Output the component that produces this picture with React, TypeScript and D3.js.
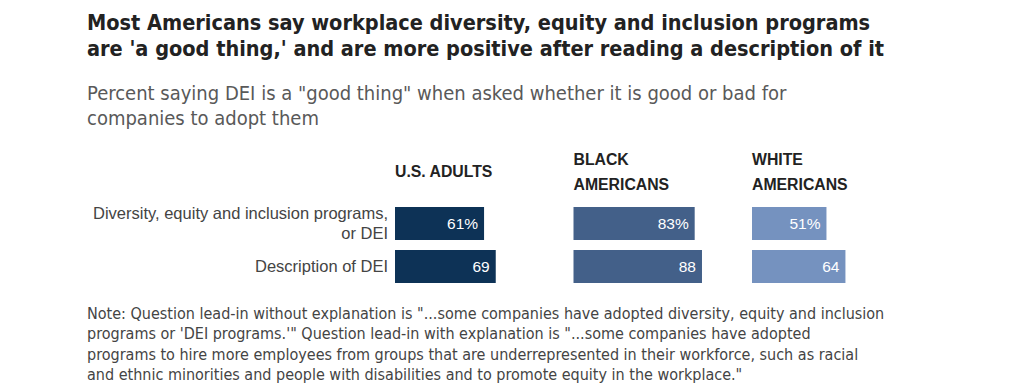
import React from "react";
import * as d3 from "d3";

const groups = ["U.S. ADULTS", "BLACK AMERICANS", "WHITE AMERICANS"];
const groupHeaderLines = [["U.S. ADULTS"], ["BLACK", "AMERICANS"], ["WHITE", "AMERICANS"]];
const categories = ["Diversity, equity and inclusion programs, or DEI", "Description of DEI"];
const categoryLines = [["Diversity, equity and inclusion programs,", "or DEI"], ["Description of DEI"]];
const usAdults = [61, 69];
const blackAmericans = [83, 88];
const whiteAmericans = [51, 64];
const groupColors = ["#0d3256", "#436089", "#7592bf"];

const titleLines = [
  "Most Americans say workplace diversity, equity and inclusion programs",
  "are 'a good thing,' and are more positive after reading a description of it",
];
const subtitleLines = [
  'Percent saying DEI is a "good thing" when asked whether it is good or bad for',
  "companies to adopt them",
];
const noteLines = [
  'Note: Question lead-in without explanation is "...some companies have adopted diversity, equity and inclusion',
  "programs or 'DEI programs.'\" Question lead-in with explanation is \"...some companies have adopted",
  "programs to hire more employees from groups that are underrepresented in their workforce, such as racial",
  'and ethnic minorities and people with disabilities and to promote equity in the workplace."',
];

const W = 1020;
const H = 392;
const condensed = "'DejaVu Sans Condensed', 'Liberation Sans Narrow', Arial, sans-serif";
const regular = "'Liberation Sans', Arial, sans-serif";

export default function App() {
  const seriesValues = [usAdults, blackAmericans, whiteAmericans];
  const groupX = d3.scalePoint<string>().domain(groups).range([395, 752]);
  const x = d3.scaleLinear().domain([0, 100]).range([0, 146]);
  const y = d3
    .scaleBand<string>()
    .domain(categories)
    .range([207, 283])
    .paddingInner(10 / 43)
    .paddingOuter(0);

  return (
    <svg width={W} height={H} style={{ position: "absolute", left: 0, top: 0 }}>
      <rect width={W} height={H} fill="#fff" />
      {titleLines.map((t, i) => (
        <text
          key={i}
          x={87}
          y={30 + i * 26}
          fontFamily={condensed}
          fontWeight="bold"
          fontSize={21.5}
          fill="#222"
        >
          {t}
        </text>
      ))}
      {subtitleLines.map((t, i) => (
        <text key={i} x={87} y={100 + i * 25} fontFamily={condensed} fontSize={20} fill="#595959">
          {t}
        </text>
      ))}
      {groupHeaderLines.map((lines, gi) =>
        lines.map((l, li) => (
          <text
            key={gi + "-" + li}
            x={groupX(groups[gi])}
            y={(lines.length === 1 ? 177 : 165) + li * 25}
            fontFamily={regular}
            fontWeight="bold"
            fontSize={15.8}
            fill="#222"
          >
            {l}
          </text>
        ))
      )}
      {categories.map((c, ci) => {
        const lines = categoryLines[ci];
        const yc = (y(c) as number) + y.bandwidth() / 2;
        const lh = 20.5;
        const start = yc - ((lines.length - 1) * lh) / 2 + 5.5;
        return lines.map((l, li) => (
          <text
            key={ci + "-" + li}
            x={388}
            y={start + li * lh}
            textAnchor="end"
            fontFamily={regular}
            fontSize={16.5}
            fill="#444"
          >
            {l}
          </text>
        ));
      })}
      {groups.map((g, gi) => (
        <g key={g} transform={`translate(${groupX(g)},0)`}>
          {categories.map((c, ci) => {
            const v = seriesValues[gi][ci];
            return (
              <g key={c}>
                <rect x={0} y={y(c)} width={x(v)} height={y.bandwidth()} fill={groupColors[gi]} />
                <text
                  x={x(v) - 6}
                  y={(y(c) as number) + y.bandwidth() / 2 + 5.5}
                  textAnchor="end"
                  fontFamily={regular}
                  fontSize={15.5}
                  fill="#fff"
                >
                  {ci === 0 ? `${v}%` : `${v}`}
                </text>
              </g>
            );
          })}
        </g>
      ))}
      {noteLines.map((t, i) => (
        <text key={i} x={87} y={318.5 + i * 20.5} fontFamily={condensed} fontSize={16} fill="#444">
          {t}
        </text>
      ))}
    </svg>
  );
}
